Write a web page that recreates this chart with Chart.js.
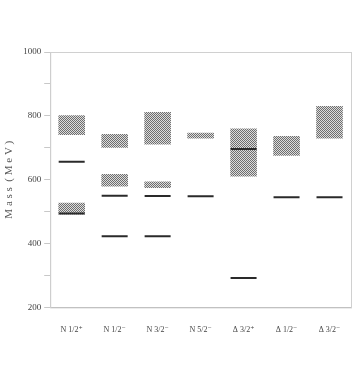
<!DOCTYPE html>
<html>
<head>
<meta charset="utf-8">
<script src="https://cdn.jsdelivr.net/npm/chart.js@4.4.0/dist/chart.umd.min.js"></script>
<style>
  html, body { margin: 0; padding: 0; background: #fff; overflow: hidden; }
  #wrap { width: 366px; height: 374px; }
</style>
</head>
<body>
<div id="wrap"><canvas id="massChart"></canvas></div>
<script>
// states along the x axis
const states = ['N 1/2⁺', 'N 1/2⁻', 'N 3/2⁻', 'N 5/2⁻', 'Δ 3/2⁺', 'Δ 1/2⁻', 'Δ 3/2⁻'];

// hatched bands (experimental ranges), MeV
const upperBand = [[740, 802], [700, 743], [710, 812], [729, 747], [610, 760], [675, 737], [729, 831]];
const lowerBand = [[491, 528], [579, 618], [574, 594], null, null, null, null];

// computed levels, MeV
const levelA = [656, 550, 549, 548, 696, 545, 545];
const levelB = [494, 423, 423, null, 292, null, null];

const yTicks = [200, 400, 600, 800, 1000];

const serif = "'Liberation Serif', 'DejaVu Serif', serif";

// little hatch pattern for the bands
function hatch() {
  var c = document.createElement('canvas');
  c.width = 4; c.height = 4;
  var g = c.getContext('2d');
  g.fillStyle = '#dcdcdc';
  g.fillRect(0, 0, 4, 4);
  g.fillStyle = '#6e6e6e';
  for (var i = 0; i < 4; i++) {
    g.fillRect(i, i, 1, 1);
    g.fillRect((i + 2) % 4, i, 1, 1);
  }
  return g.createPattern(c, 'repeat');
}
const pattern = hatch();

// light frame round the plot area
const frame = {
  id: 'frame',
  beforeDatasetsDraw(chart) {
    const a = chart.chartArea, ctx = chart.ctx;
    ctx.save();
    ctx.strokeStyle = '#d0d0d0';
    ctx.lineWidth = 1;
    ctx.strokeRect(a.left + 0.5, a.top + 0.5, a.right - a.left, a.bottom - a.top);
    ctx.restore();
  }
};

const CHART = document.getElementById('massChart');
new Chart(CHART, {
  type: 'bar',
  data: {
    labels: states,
    datasets: [
      { data: upperBand, backgroundColor: pattern, borderWidth: 0, grouped: false, order: 2,
        barPercentage: 0.62, categoryPercentage: 1 },
      { data: lowerBand, backgroundColor: pattern, borderWidth: 0, grouped: false, order: 2,
        barPercentage: 0.62, categoryPercentage: 1 },
      { type: 'line', data: levelA, showLine: false, pointStyle: 'line', pointRadius: 13, order: 1,
        pointHoverRadius: 13, pointBorderWidth: 2, borderColor: '#2a2a2a', backgroundColor: '#2a2a2a' },
      { type: 'line', data: levelB, showLine: false, pointStyle: 'line', pointRadius: 13, order: 1,
        pointHoverRadius: 13, pointBorderWidth: 2, borderColor: '#2a2a2a', backgroundColor: '#2a2a2a' }
    ]
  },
  options: {
    responsive: true,
    maintainAspectRatio: false,
    animation: false,
    layout: { padding: { top: 52, right: 9, bottom: 29, left: 3 } },
    plugins: { legend: { display: false }, tooltip: { enabled: false } },
    scales: {
      x: {
        grid: { display: false },
        border: { color: '#aaaaaa' },
        ticks: { color: '#444', font: { family: serif, size: 8 }, padding: 10, maxRotation: 0 }
      },
      y: {
        min: 200, max: 1000,
        grid: { drawOnChartArea: false, tickLength: 6, color: '#c8c8c8' },
        border: { color: '#c8c8c8' },
        ticks: {
          stepSize: 100, padding: 3, color: '#444', font: { family: serif, size: 9 },
          callback: function (v) { return yTicks.indexOf(v) >= 0 ? v : ''; }
        },
        title: { display: true, text: 'M a s s  ( M e V )', color: '#555',
          font: { family: serif, size: 11 }, padding: { top: 0, bottom: 4 } }
      }
    }
  },
  plugins: [frame]
});
</script>
</body>
</html>
